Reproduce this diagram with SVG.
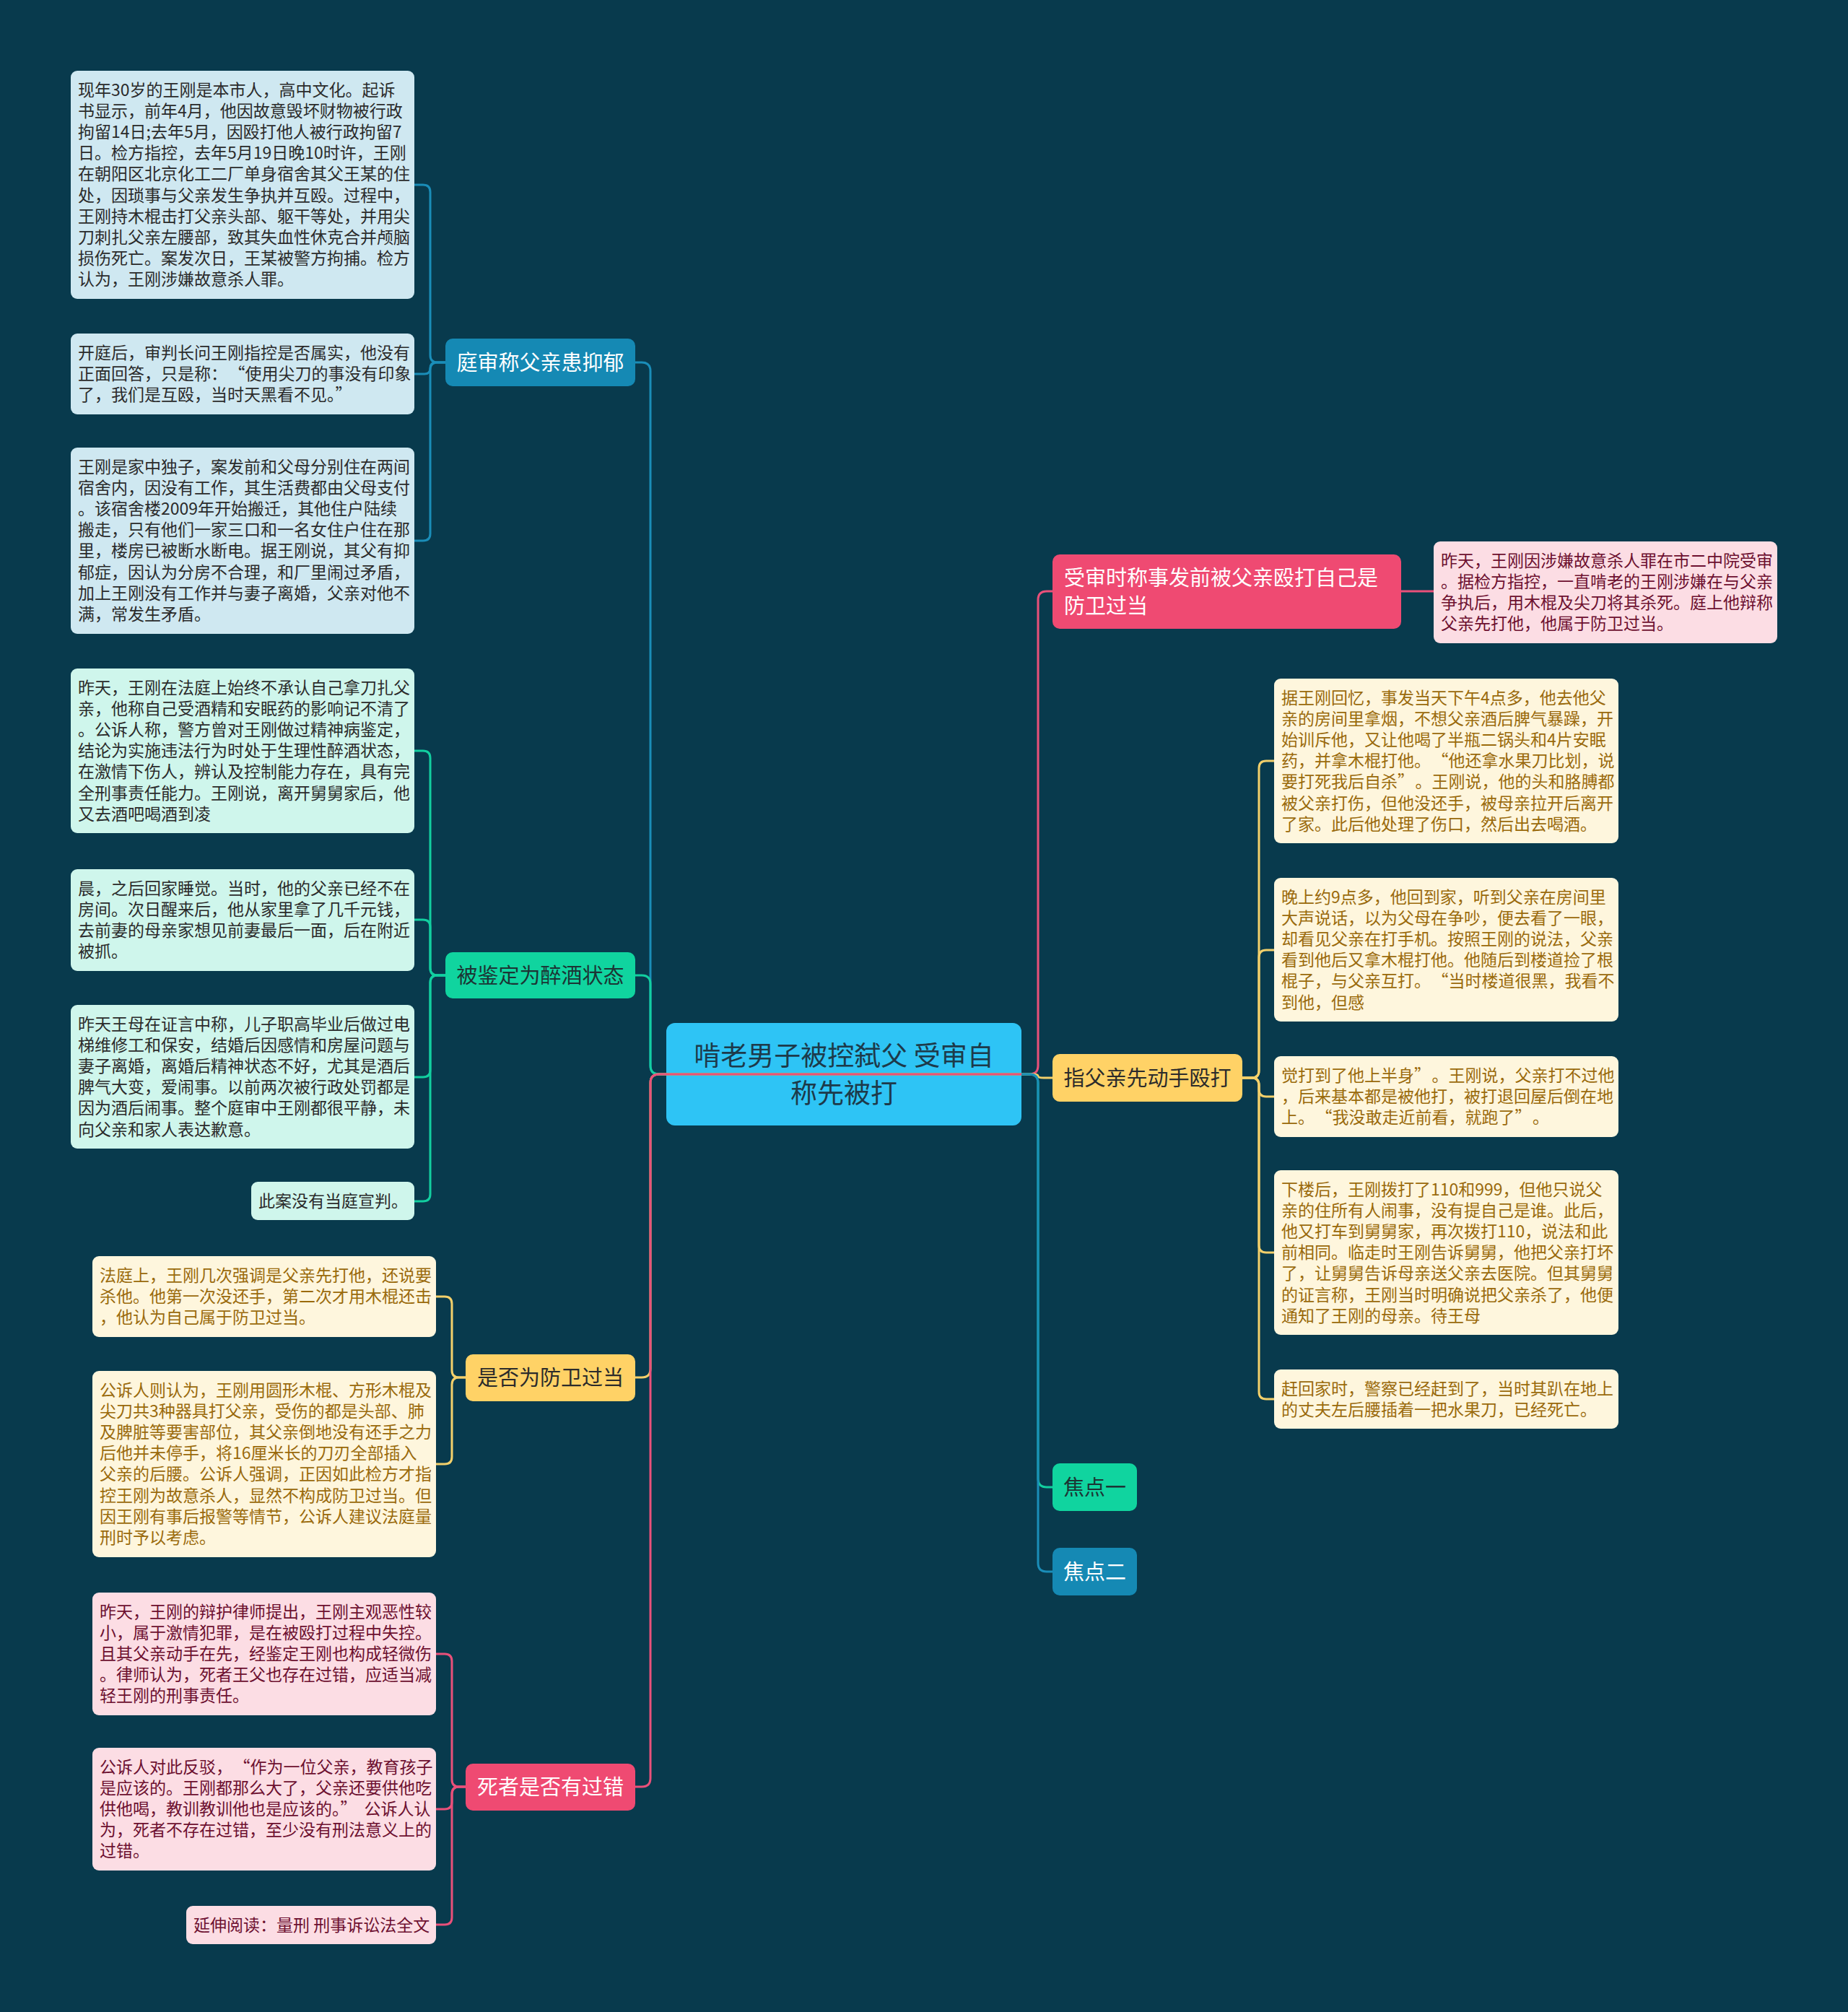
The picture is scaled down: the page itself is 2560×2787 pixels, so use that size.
<svg xmlns="http://www.w3.org/2000/svg" width="2560" height="2787" viewBox="0 0 2560 2787">
<style>
text{font-family:"Noto Sans CJK SC","Noto Sans",sans-serif}
.lf{font-size:23px}
.lb rect,.lg rect,.ly rect,.lp rect{rx:9px}
.lb rect{fill:#cfe8f1}.lb text{fill:#2b2b2b}
.lg rect{fill:#cff6ec}.lg text{fill:#2b2b2b}
.ly rect{fill:#fef6dd}.ly text{fill:#9a6a0c}
.lp rect{fill:#fcdde4}.lp text{fill:#6d1030}
.br{font-size:29px;text-anchor:middle}
.c{fill:none;stroke-width:3}
.cb{stroke:#1a8db8}.cg{stroke:#12cfa0}.cy{stroke:#f3d06b}.cp{stroke:#e9507a}
</style>
<rect x="0" y="0" width="2560" height="2787" fill="#083a4d"/>

<g id="root"><rect x="923" y="1417" width="492" height="142" rx="12" fill="#2ec4f5"/>
<text x="1169" y="1476" font-size="37" text-anchor="middle" fill="#1d3a4a">啃老男子被控弑父 受审自</text>
<text x="1169" y="1528" font-size="37" text-anchor="middle" fill="#1d3a4a">称先被打</text></g>

<g id="b1"><rect x="617" y="469" width="263" height="66" rx="10" fill="#1589b4"/><text class="br" x="748.5" y="512.5" fill="#ffffff">庭审称父亲患抑郁</text></g>
<g id="b2"><rect x="617" y="1319" width="263" height="64" rx="10" fill="#10d49f"/><text class="br" x="748.5" y="1361.5" fill="#1c3434">被鉴定为醉酒状态</text></g>
<g id="b3"><rect x="645" y="1876" width="235" height="65" rx="10" fill="#ffd266"/><text class="br" x="762.5" y="1918.5" fill="#2b2b2b">是否为防卫过当</text></g>
<g id="b4"><rect x="645" y="2443" width="235" height="65" rx="10" fill="#ef4a72"/><text class="br" x="762.5" y="2485.5" fill="#ffffff">死者是否有过错</text></g>
<g id="b5"><rect x="1458" y="768" width="483" height="103" rx="10" fill="#ef4a72"/><text font-size="29" x="1474" y="810.5" fill="#ffffff">受审时称事发前被父亲殴打自己是</text><text font-size="29" x="1474" y="849.5" fill="#ffffff">防卫过当</text></g>
<g id="b6"><rect x="1458" y="1460" width="263" height="66" rx="10" fill="#ffd266"/><text class="br" x="1589.5" y="1503.5" fill="#2b2b2b">指父亲先动手殴打</text></g>
<g id="b7"><rect x="1458" y="2027" width="117" height="66" rx="10" fill="#10d49f"/><text class="br" x="1516.5" y="2070.5" fill="#1c3434">焦点一</text></g>
<g id="b8"><rect x="1458" y="2144" width="117" height="66" rx="10" fill="#1589b4"/><text class="br" x="1516.5" y="2187.5" fill="#ffffff">焦点二</text></g>

<g id="l1" class="lb"><rect x="98" y="98" width="476" height="316"/><text class="lf" x="108" y="132.5"><tspan x="108" dy="0">现年30岁的王刚是本市人，高中文化。起诉</tspan><tspan x="108" dy="29.2">书显示，前年4月，他因故意毁坏财物被行政</tspan><tspan x="108" dy="29.2">拘留14日;去年5月，因殴打他人被行政拘留7</tspan><tspan x="108" dy="29.2">日。检方指控，去年5月19日晚10时许，王刚</tspan><tspan x="108" dy="29.2">在朝阳区北京化工二厂单身宿舍其父王某的住</tspan><tspan x="108" dy="29.2">处，因琐事与父亲发生争执并互殴。过程中，</tspan><tspan x="108" dy="29.2">王刚持木棍击打父亲头部、躯干等处，并用尖</tspan><tspan x="108" dy="29.2">刀刺扎父亲左腰部，致其失血性休克合并颅脑</tspan><tspan x="108" dy="29.2">损伤死亡。案发次日，王某被警方拘捕。检方</tspan><tspan x="108" dy="29.2">认为，王刚涉嫌故意杀人罪。</tspan></text></g>
<g id="l2" class="lb"><rect x="98" y="462" width="476" height="112"/><text class="lf" x="108" y="496.5"><tspan x="108" dy="0">开庭后，审判长问王刚指控是否属实，他没有</tspan><tspan x="108" dy="29.2">正面回答，只是称：<tspan dx="13">“</tspan>使用尖刀的事没有印象</tspan><tspan x="108" dy="29.2">了，我们是互殴，当时天黑看不见。”</tspan></text></g>
<g id="l3" class="lb"><rect x="98" y="620" width="476" height="258"/><text class="lf" x="108" y="654.5"><tspan x="108" dy="0">王刚是家中独子，案发前和父母分别住在两间</tspan><tspan x="108" dy="29.2">宿舍内，因没有工作，其生活费都由父母支付</tspan><tspan x="108" dy="29.2">。该宿舍楼2009年开始搬迁，其他住户陆续</tspan><tspan x="108" dy="29.2">搬走，只有他们一家三口和一名女住户住在那</tspan><tspan x="108" dy="29.2">里，楼房已被断水断电。据王刚说，其父有抑</tspan><tspan x="108" dy="29.2">郁症，因认为分房不合理，和厂里闹过矛盾，</tspan><tspan x="108" dy="29.2">加上王刚没有工作并与妻子离婚，父亲对他不</tspan><tspan x="108" dy="29.2">满，常发生矛盾。</tspan></text></g>

<g id="l4" class="lg"><rect x="98" y="926" width="476" height="228"/><text class="lf" x="108" y="960.5"><tspan x="108" dy="0">昨天，王刚在法庭上始终不承认自己拿刀扎父</tspan><tspan x="108" dy="29.2">亲，他称自己受酒精和安眠药的影响记不清了</tspan><tspan x="108" dy="29.2">。公诉人称，警方曾对王刚做过精神病鉴定，</tspan><tspan x="108" dy="29.2">结论为实施违法行为时处于生理性醉酒状态，</tspan><tspan x="108" dy="29.2">在激情下伤人，辨认及控制能力存在，具有完</tspan><tspan x="108" dy="29.2">全刑事责任能力。王刚说，离开舅舅家后，他</tspan><tspan x="108" dy="29.2">又去酒吧喝酒到凌</tspan></text></g>
<g id="l5" class="lg"><rect x="98" y="1204" width="476" height="141"/><text class="lf" x="108" y="1238.5"><tspan x="108" dy="0">晨，之后回家睡觉。当时，他的父亲已经不在</tspan><tspan x="108" dy="29.2">房间。次日醒来后，他从家里拿了几千元钱，</tspan><tspan x="108" dy="29.2">去前妻的母亲家想见前妻最后一面，后在附近</tspan><tspan x="108" dy="29.2">被抓。</tspan></text></g>
<g id="l6" class="lg"><rect x="98" y="1392" width="476" height="199"/><text class="lf" x="108" y="1426.5"><tspan x="108" dy="0">昨天王母在证言中称，儿子职高毕业后做过电</tspan><tspan x="108" dy="29.2">梯维修工和保安，结婚后因感情和房屋问题与</tspan><tspan x="108" dy="29.2">妻子离婚，离婚后精神状态不好，尤其是酒后</tspan><tspan x="108" dy="29.2">脾气大变，爱闹事。以前两次被行政处罚都是</tspan><tspan x="108" dy="29.2">因为酒后闹事。整个庭审中王刚都很平静，未</tspan><tspan x="108" dy="29.2">向父亲和家人表达歉意。</tspan></text></g>
<g id="l7" class="lg"><rect x="348" y="1637" width="226" height="53"/><text class="lf" x="358" y="1671.5">此案没有当庭宣判。</text></g>

<g id="l8" class="ly"><rect x="128" y="1740" width="476" height="112"/><text class="lf" x="138" y="1774.5"><tspan x="138" dy="0">法庭上，王刚几次强调是父亲先打他，还说要</tspan><tspan x="138" dy="29.2">杀他。他第一次没还手，第二次才用木棍还击</tspan><tspan x="138" dy="29.2">，他认为自己属于防卫过当。</tspan></text></g>
<g id="l9" class="ly"><rect x="128" y="1899" width="476" height="258"/><text class="lf" x="138" y="1933.5"><tspan x="138" dy="0">公诉人则认为，王刚用圆形木棍、方形木棍及</tspan><tspan x="138" dy="29.2">尖刀共3种器具打父亲，受伤的都是头部、肺</tspan><tspan x="138" dy="29.2">及脾脏等要害部位，其父亲倒地没有还手之力</tspan><tspan x="138" dy="29.2">后他并未停手，将16厘米长的刀刃全部插入</tspan><tspan x="138" dy="29.2">父亲的后腰。公诉人强调，正因如此检方才指</tspan><tspan x="138" dy="29.2">控王刚为故意杀人，显然不构成防卫过当。但</tspan><tspan x="138" dy="29.2">因王刚有事后报警等情节，公诉人建议法庭量</tspan><tspan x="138" dy="29.2">刑时予以考虑。</tspan></text></g>

<g id="l10" class="lp"><rect x="128" y="2206" width="476" height="170"/><text class="lf" x="138" y="2240.5"><tspan x="138" dy="0">昨天，王刚的辩护律师提出，王刚主观恶性较</tspan><tspan x="138" dy="29.2">小，属于激情犯罪，是在被殴打过程中失控。</tspan><tspan x="138" dy="29.2">且其父亲动手在先，经鉴定王刚也构成轻微伤</tspan><tspan x="138" dy="29.2">。律师认为，死者王父也存在过错，应适当减</tspan><tspan x="138" dy="29.2">轻王刚的刑事责任。</tspan></text></g>
<g id="l11" class="lp"><rect x="128" y="2421" width="476" height="170"/><text class="lf" x="138" y="2455.5"><tspan x="138" dy="0">公诉人对此反驳，<tspan dx="13">“</tspan>作为一位父亲，教育孩子</tspan><tspan x="138" dy="29.2">是应该的。王刚都那么大了，父亲还要供他吃</tspan><tspan x="138" dy="29.2">供他喝，教训教训他也是应该的。”<tspan dx="10">公</tspan>诉人认</tspan><tspan x="138" dy="29.2">为，死者不存在过错，至少没有刑法意义上的</tspan><tspan x="138" dy="29.2">过错。</tspan></text></g>
<g id="l12" class="lp"><rect x="258" y="2640" width="346" height="53"/><text class="lf" x="268" y="2674.5">延伸阅读：量刑 刑事诉讼法全文</text></g>

<g id="l13" class="lp"><rect x="1986" y="750" width="476" height="141"/><text class="lf" x="1996" y="784.5"><tspan x="1996" dy="0">昨天，王刚因涉嫌故意杀人罪在市二中院受审</tspan><tspan x="1996" dy="29.2">。据检方指控，一直啃老的王刚涉嫌在与父亲</tspan><tspan x="1996" dy="29.2">争执后，用木棍及尖刀将其杀死。庭上他辩称</tspan><tspan x="1996" dy="29.2">父亲先打他，他属于防卫过当。</tspan></text></g>
<g id="l14" class="ly"><rect x="1765" y="940" width="477" height="228"/><text class="lf" x="1775" y="974.5"><tspan x="1775" dy="0">据王刚回忆，事发当天下午4点多，他去他父</tspan><tspan x="1775" dy="29.2">亲的房间里拿烟，不想父亲酒后脾气暴躁，开</tspan><tspan x="1775" dy="29.2">始训斥他，又让他喝了半瓶二锅头和4片安眠</tspan><tspan x="1775" dy="29.2">药，并拿木棍打他。<tspan dx="13">“</tspan>他还拿水果刀比划，说</tspan><tspan x="1775" dy="29.2">要打死我后自杀”<tspan dx="13">。</tspan>王刚说，他的头和胳膊都</tspan><tspan x="1775" dy="29.2">被父亲打伤，但他没还手，被母亲拉开后离开</tspan><tspan x="1775" dy="29.2">了家。此后他处理了伤口，然后出去喝酒。</tspan></text></g>
<g id="l15" class="ly"><rect x="1765" y="1216" width="477" height="199"/><text class="lf" x="1775" y="1250.5"><tspan x="1775" dy="0">晚上约9点多，他回到家，听到父亲在房间里</tspan><tspan x="1775" dy="29.2">大声说话，以为父母在争吵，便去看了一眼，</tspan><tspan x="1775" dy="29.2">却看见父亲在打手机。按照王刚的说法，父亲</tspan><tspan x="1775" dy="29.2">看到他后又拿木棍打他。他随后到楼道捡了根</tspan><tspan x="1775" dy="29.2">棍子，与父亲互打。<tspan dx="13">“</tspan>当时楼道很黑，我看不</tspan><tspan x="1775" dy="29.2">到他，但感</tspan></text></g>
<g id="l16" class="ly"><rect x="1765" y="1463" width="477" height="112"/><text class="lf" x="1775" y="1497.5"><tspan x="1775" dy="0">觉打到了他上半身”<tspan dx="13">。</tspan>王刚说，父亲打不过他</tspan><tspan x="1775" dy="29.2">，后来基本都是被他打，被打退回屋后倒在地</tspan><tspan x="1775" dy="29.2">上。<tspan dx="13">“</tspan>我没敢走近前看，就跑了”<tspan dx="13">。</tspan></tspan></text></g>
<g id="l17" class="ly"><rect x="1765" y="1621" width="477" height="228"/><text class="lf" x="1775" y="1655.5"><tspan x="1775" dy="0">下楼后，王刚拨打了110和999，但他只说父</tspan><tspan x="1775" dy="29.2">亲的住所有人闹事，没有提自己是谁。此后，</tspan><tspan x="1775" dy="29.2">他又打车到舅舅家，再次拨打110，说法和此</tspan><tspan x="1775" dy="29.2">前相同。临走时王刚告诉舅舅，他把父亲打坏</tspan><tspan x="1775" dy="29.2">了，让舅舅告诉母亲送父亲去医院。但其舅舅</tspan><tspan x="1775" dy="29.2">的证言称，王刚当时明确说把父亲杀了，他便</tspan><tspan x="1775" dy="29.2">通知了王刚的母亲。待王母</tspan></text></g>
<g id="l18" class="ly"><rect x="1765" y="1897" width="477" height="82"/><text class="lf" x="1775" y="1931.5"><tspan x="1775" dy="0">赶回家时，警察已经赶到了，当时其趴在地上</tspan><tspan x="1775" dy="29.2">的丈夫左后腰插着一把水果刀，已经死亡。</tspan></text></g>

<g id="connectors">
<path class="c cp" d="M923 1488 H1426 Q1438 1488 1438 1476 V831 Q1438 819 1450 819 H1458"/>
<path class="c cy" d="M923 1488 H1430 Q1438 1488 1438 1490.5 Q1438 1493 1446 1493 H1458"/>
<path class="c cg" d="M923 1488 H1426 Q1438 1488 1438 1500 V2048 Q1438 2060 1450 2060 H1458"/>
<path class="c cb" d="M923 1488 H1426 Q1438 1488 1438 1500 V2165 Q1438 2177 1450 2177 H1458"/>
<path class="c cb" d="M1415 1488 H913 Q901 1488 901 1476 V514 Q901 502 889 502 H880"/>
<path class="c cg" d="M1415 1488 H913 Q901 1488 901 1476 V1363 Q901 1351 889 1351 H880"/>
<path class="c cy" d="M1415 1488 H913 Q901 1488 901 1500 V1896 Q901 1908 889 1908 H880"/>
<path class="c cp" d="M1415 1488 H913 Q901 1488 901 1500 V2463 Q901 2475 889 2475 H880"/>

<path class="c cb" d="M617 502 H606 Q596 502 596 492 V266 Q596 256 586 256 H574"/>
<path class="c cb" d="M617 502 H604 Q596 502 596 510 Q596 518 588 518 H574"/>
<path class="c cb" d="M617 502 H606 Q596 502 596 512 V739 Q596 749 586 749 H574"/>

<path class="c cg" d="M617 1351 H606 Q596 1351 596 1341 V1050 Q596 1040 586 1040 H574"/>
<path class="c cg" d="M617 1351 H606 Q596 1351 596 1341 V1284 Q596 1274 586 1274 H574"/>
<path class="c cg" d="M617 1351 H606 Q596 1351 596 1361 V1482 Q596 1492 586 1492 H574"/>
<path class="c cg" d="M617 1351 H606 Q596 1351 596 1361 V1654 Q596 1664 586 1664 H574"/>

<path class="c cy" d="M645 1908 H636 Q626 1908 626 1898 V1806 Q626 1796 616 1796 H604"/>
<path class="c cy" d="M645 1908 H636 Q626 1908 626 1918 V2018 Q626 2028 616 2028 H604"/>

<path class="c cp" d="M645 2475 H636 Q626 2475 626 2465 V2301 Q626 2291 616 2291 H604"/>
<path class="c cp" d="M645 2475 H636 Q626 2475 626 2485 V2496 Q626 2506 616 2506 H604"/>
<path class="c cp" d="M645 2475 H636 Q626 2475 626 2485 V2656 Q626 2666 616 2666 H604"/>

<path class="c cp" d="M1941 819 H1986"/>

<path class="c cy" d="M1721 1493 H1734 Q1744 1493 1744 1483 V1064 Q1744 1054 1754 1054 H1765"/>
<path class="c cy" d="M1721 1493 H1734 Q1744 1493 1744 1483 V1326 Q1744 1316 1754 1316 H1765"/>
<path class="c cy" d="M1721 1493 H1734 Q1744 1493 1744 1503 V1509 Q1744 1519 1754 1519 H1765"/>
<path class="c cy" d="M1721 1493 H1734 Q1744 1493 1744 1503 V1725 Q1744 1735 1754 1735 H1765"/>
<path class="c cy" d="M1721 1493 H1734 Q1744 1493 1744 1503 V1928 Q1744 1938 1754 1938 H1765"/>
</g>
</svg>
